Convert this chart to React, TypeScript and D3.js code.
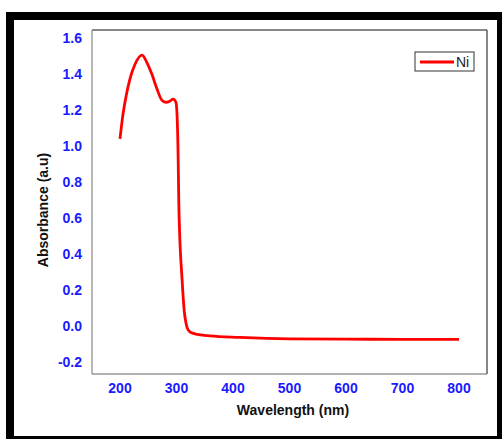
import React from "react";
import * as d3 from "d3";

const wavelengths = [200, 205, 211, 218, 226, 239, 248, 257, 265, 274, 281, 288, 294, 299, 301, 303, 304, 306, 308, 310, 312, 314, 316, 318, 320, 323, 327, 334, 342, 359, 412, 500, 600, 700, 800];
const absorbance = [1.04, 1.17, 1.28, 1.377, 1.45, 1.505, 1.461, 1.394, 1.321, 1.255, 1.243, 1.249, 1.26, 1.243, 1.171, 0.92, 0.697, 0.475, 0.35, 0.252, 0.15, 0.075, 0.03, 0.0, -0.018, -0.03, -0.038, -0.045, -0.049, -0.055, -0.063, -0.071, -0.073, -0.074, -0.074];
const xTicks = [200, 300, 400, 500, 600, 700, 800];
const yTicks = [-0.2, 0.0, 0.2, 0.4, 0.6, 0.8, 1.0, 1.2, 1.4, 1.6];
const seriesName = "Ni";

export default function App() {
  const W = 502, H = 439;
  const left = 92, right = 487, top = 30, bottom = 374;
  const x = d3.scaleLinear().domain([200, 800]).range([120, 459]);
  const y = d3.scaleLinear().domain([-0.2, 1.6]).range([362, 38]);
  const data = wavelengths.map((w, i) => [w, absorbance[i]] as [number, number]);
  const line = d3.line<[number, number]>().x(d => x(d[0])).y(d => y(d[1])).curve(d3.curveMonotoneX);
  const font = "'Liberation Sans', Arial, sans-serif";
  return (
    <svg width={W} height={H} style={{ position: "absolute", left: 0, top: 0 }} fontFamily={font}>
      <rect x={0} y={0} width={W} height={H} fill="#fff" />
      <rect x={6} y={12} width={496} height={427} fill="#000" />
      <rect x={14} y={20} width={483} height={416} fill="#fff" />
      <line x1={left} y1={top} x2={right} y2={top} stroke="#111" strokeWidth={1} />
      <line x1={right} y1={top} x2={right} y2={bottom} stroke="#111" strokeWidth={1} />
      <line x1={left} y1={top} x2={left} y2={bottom} stroke="#888" strokeWidth={1.2} />
      <line x1={left} y1={bottom} x2={right} y2={bottom} stroke="#666" strokeWidth={1.2} />
      {yTicks.map(t => (
        <text key={t} x={82} y={y(t)} dy="0.35em" textAnchor="end" fontSize={14} fontWeight="bold" fill="#1a1aff">
          {t.toFixed(1)}
        </text>
      ))}
      {xTicks.map(t => (
        <text key={t} x={x(t)} y={388} dy="0.35em" textAnchor="middle" fontSize={14} fontWeight="bold" fill="#1a1aff">
          {t}
        </text>
      ))}
      <text x={293} y={410} dy="0.35em" textAnchor="middle" fontSize={14} fontWeight="bold" fill="#111">
        Wavelength (nm)
      </text>
      <text transform={`translate(43,210) rotate(-90)`} dy="0.35em" textAnchor="middle" fontSize={14} fontWeight="bold" fill="#111">
        Absorbance (a.u)
      </text>
      <path d={line(data) || ""} fill="none" stroke="#ff0000" strokeWidth={2.8} strokeLinejoin="round" />
      <rect x={415} y={52} width={59} height={19} fill="#fff" stroke="#333" strokeWidth={1} />
      <line x1={420} y1={62} x2={454} y2={62} stroke="#ff0000" strokeWidth={3} />
      <text x={456} y={62} dy="0.35em" fontSize={14} fill="#222">{seriesName}</text>
    </svg>
  );
}
